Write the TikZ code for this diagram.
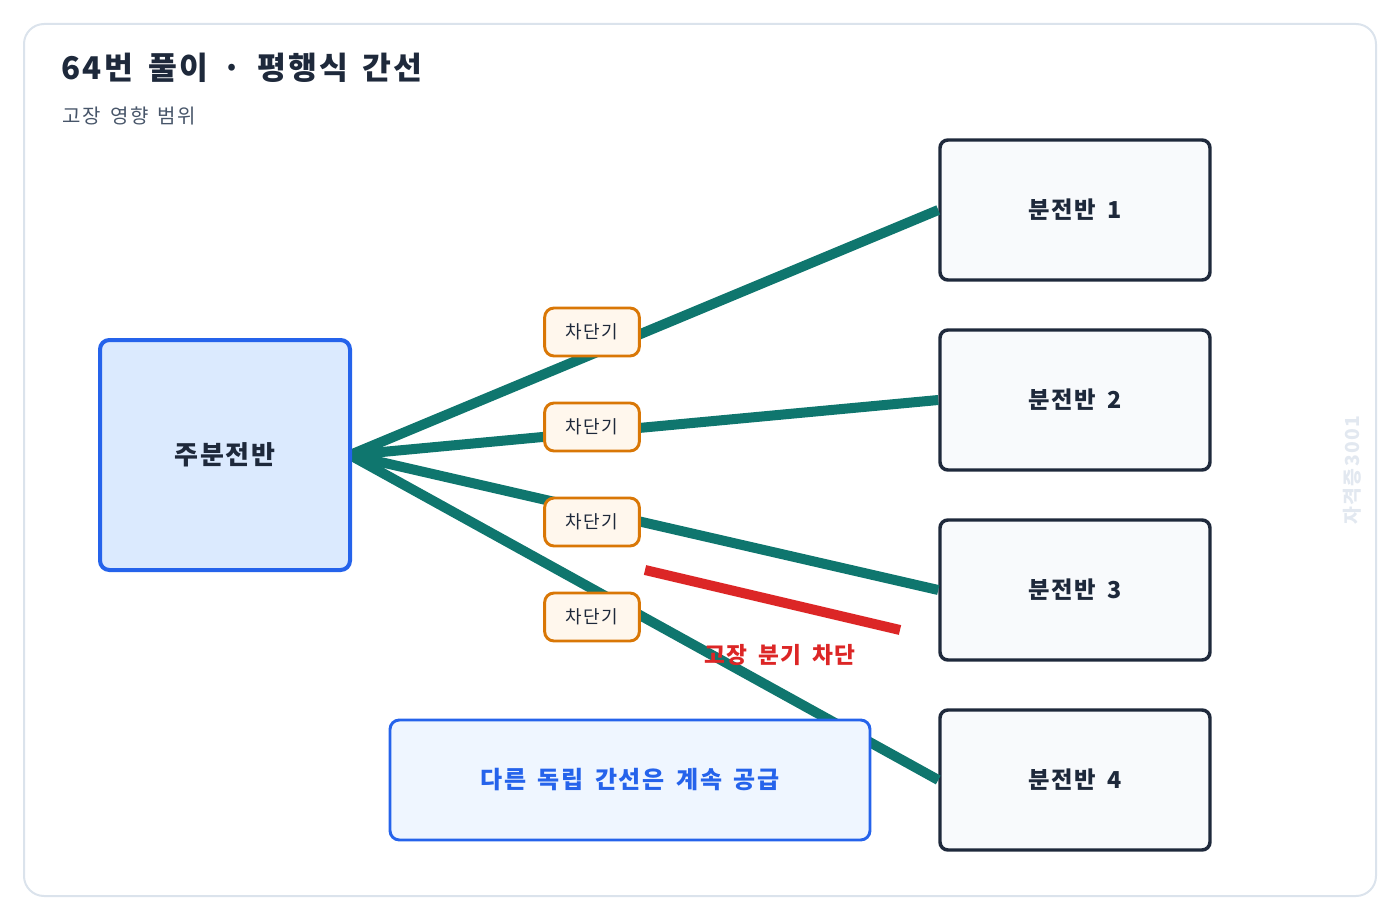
\documentclass[tikz,border=0pt]{standalone}
\usepackage{fontspec}
\setmainfont{Noto Sans CJK KR}[LetterSpace=7,WordSpace=1.6]
\usepackage{tikz}
\usetikzlibrary{positioning,calc}
\definecolor{feeder}{HTML}{0F766E}
\definecolor{mainfill}{HTML}{DBEAFE}
\definecolor{mainline}{HTML}{2563EB}
\definecolor{subfill}{HTML}{F8FAFC}
\definecolor{subline}{HTML}{1E293B}
\definecolor{brkfill}{HTML}{FFF7ED}
\definecolor{brkline}{HTML}{D97706}
\definecolor{faultred}{HTML}{DC2626}
\definecolor{notefill}{HTML}{EFF6FF}
\definecolor{titlecol}{HTML}{1E293B}
\definecolor{subtitle}{HTML}{475569}
\definecolor{framecol}{HTML}{DBE3EC}
\definecolor{wmark}{HTML}{E2E8F0}

\begin{document}
\begin{tikzpicture}[x=0.75pt,y=-0.75pt,
  panel/.style={draw=subline,line width=2.6pt,fill=subfill,rounded corners=6pt,minimum width=202.5pt,minimum height=105pt,inner sep=0pt,font=\bfseries\fontsize{17.5}{20}\selectfont,text=subline},
  breaker/.style={draw=brkline,line width=2.2pt,fill=brkfill,rounded corners=7pt,minimum width=71pt,minimum height=36pt,inner sep=0pt,font=\fontsize{13.5}{15}\selectfont,text=subline},
  feed/.style={feeder,line width=7.5pt}]
\useasboundingbox (0,0) rectangle (1400,920);
\draw[framecol,line width=1.5pt,rounded corners=15pt] (24,24) rectangle (1376,896);
\node[anchor=west,text=titlecol,font=\bfseries\fontsize{23.5}{28}\selectfont] (title) at (57,68) {64번 풀이 · 평행식 간선};
\node[anchor=west,text=subtitle,font=\fontsize{15}{17}\selectfont] (sub) at (58,116) {고장 영향 범위};
\node[rotate=90,text=wmark,font=\bfseries\fontsize{14.5}{17}\selectfont] (wm) at (1352,470) {자격증3001};
% panels
\node[panel] (p1) at (1075,210) {분전반 1};
\node[panel] (p2) at (1075,400) {분전반 2};
\node[panel] (p3) at (1075,590) {분전반 3};
\node[panel] (p4) at (1075,780) {분전반 4};
\coordinate (src) at (350,455);
\foreach \i in {1,...,4}
  \draw[feed] (src) -- (p\i.west);
\node[draw=mainline,line width=3pt,fill=mainfill,rounded corners=7pt,minimum width=187.5pt,minimum height=172.5pt,inner sep=0pt,text=subline,font=\bfseries\fontsize{19.5}{22}\selectfont] (main) at (225,455) {주분전반};
% breakers
\foreach \i/\y in {1/332,2/427,3/522,4/617}
  \node[breaker] (b\i) at (592,\y) {차단기};
\node[draw=mainline,line width=2.2pt,fill=notefill,rounded corners=7pt,minimum width=360pt,minimum height=90pt,inner sep=0pt,text=mainline,font=\bfseries\fontsize{18}{20}\selectfont] (note) at (630,780) {다른 독립 간선은 계속 공급};
% fault
\coordinate (f1) at (645,570);
\coordinate (f2) at (900,630);
\draw[faultred,line width=7.5pt] (f1) -- (f2);
\node[text=faultred,font=\bfseries\fontsize{17}{20}\selectfont] (fault) at (780,655) {고장 분기 차단};
\end{tikzpicture}
\end{document}
